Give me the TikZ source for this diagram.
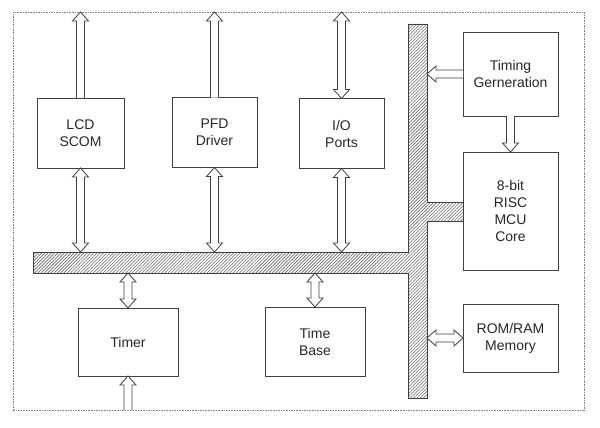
\documentclass[tikz,border=0pt]{standalone}
\usepackage{fontspec}
\setmainfont{Liberation Sans}
\usepackage{tikz}
\usetikzlibrary{calc,patterns.meta}

% hollow block arrows, drawn as outlines between two points
\newcommand{\onewayarrow}[2]{%
  \draw[fatarrow] ($(#1)!4pt!90:(#2)$) -- ($(#2)!9pt!(#1)!4pt!-90:(#1)$)
    -- ($(#2)!9pt!(#1)!8pt!-90:(#1)$) -- (#2)
    -- ($(#2)!9pt!(#1)!8pt!90:(#1)$) -- ($(#2)!9pt!(#1)!4pt!90:(#1)$)
    -- ($(#1)!4pt!-90:(#2)$);}
\newcommand{\twowayarrow}[2]{%
  \draw[fatarrow] (#1) -- ($(#1)!9pt!(#2)!8pt!90:(#2)$) -- ($(#1)!9pt!(#2)!4pt!90:(#2)$)
    -- ($(#2)!9pt!(#1)!4pt!-90:(#1)$) -- ($(#2)!9pt!(#1)!8pt!-90:(#1)$) -- (#2)
    -- ($(#2)!9pt!(#1)!8pt!90:(#1)$) -- ($(#2)!9pt!(#1)!4pt!90:(#1)$)
    -- ($(#1)!9pt!(#2)!4pt!-90:(#2)$) -- ($(#1)!9pt!(#2)!8pt!-90:(#2)$) -- cycle;}

\begin{document}
\begin{tikzpicture}[x=1pt,y=-1pt]
        % Define styles
        \tikzset{
            block/.style={rectangle, draw=black!75, line width=0.9pt, outer sep=0pt, align=center,
                text=black!85, font=\fontsize{14}{17}\selectfont},
            frame/.style={rectangle, draw=black!50, line width=0.8pt, dash pattern=on 1.6pt off 1pt, outer sep=0pt},
            bus/.style={draw=black!75, line width=0.9pt,
                pattern={Lines[angle=45, distance=2.3pt, line width=0.6pt]}, pattern color=black!60},
            fatarrow/.style={draw=black!75, line width=0.8pt, fill=white}
        }
        \useasboundingbox (0,0) rectangle (600,428);

        % Frame
        \node[frame, minimum width=571, minimum height=398] (chip) at (298.5,211) {};

        % Bus
        \draw[bus] (33,252) -| (408,24) -| (427,202) -| (463,221) -| (427,398) -| (408,273) -- (33,273) -- cycle;
        \coordinate (hbusN) at (33,252);
        \coordinate (hbusS) at (33,273);
        \coordinate (vbusE) at (427,24);

        % Nodes
        \node[block, minimum width=87, minimum height=70] (lcd) at (80.5,133) {LCD\\SCOM};
        \node[block, minimum width=85, minimum height=70] (pfd) at (214.5,132.5) {PFD\\Driver};
        \node[block, minimum width=85, minimum height=70] (io) at (341.5,133.5) {I/O\\Ports};
        \node[block, minimum width=95, minimum height=84] (timing) at (510.5,74) {Timing\\Gerneration};
        \node[block, minimum width=95, minimum height=118] (mcu) at (510.5,211) {8-bit\\RISC\\MCU\\Core};
        \node[block, minimum width=95, minimum height=68] (rom) at (510.5,338) {ROM/RAM\\Memory};
        \node[block, minimum width=100, minimum height=68] (timer) at (128,342) {Timer};
        \node[block, minimum width=100, minimum height=69] (tbase) at (315,341.5) {Time\\Base};

        % Arrow ends
        \coordinate (lcdout) at (lcd.north |- chip.north);
        \coordinate (pfdout) at (pfd.north |- chip.north);
        \coordinate (ioout) at (io.north |- chip.north);
        \coordinate (lcdbus) at (lcd.south |- hbusN);
        \coordinate (pfdbus) at (pfd.south |- hbusN);
        \coordinate (iobus) at (io.south |- hbusN);
        \coordinate (timerbus) at (timer.north |- hbusS);
        \coordinate (tbasebus) at (tbase.north |- hbusS);
        \coordinate (timerin) at (timer.south |- chip.south);
        \coordinate (timingbus) at (timing.west -| vbusE);
        \coordinate (rombus) at (rom.west -| vbusE);

        % Arrows
        \onewayarrow{lcd.north}{lcdout}
        \onewayarrow{pfd.north}{pfdout}
        \twowayarrow{io.north}{ioout}
        \twowayarrow{lcd.south}{lcdbus}
        \twowayarrow{pfd.south}{pfdbus}
        \twowayarrow{io.south}{iobus}
        \twowayarrow{timerbus}{timer.north}
        \twowayarrow{tbasebus}{tbase.north}
        \onewayarrow{timerin}{timer.south}
        \onewayarrow{timing.west}{timingbus}
        \onewayarrow{timing.south}{mcu.north}
        \twowayarrow{rombus}{rom.west}
    \end{tikzpicture}
\end{document}
